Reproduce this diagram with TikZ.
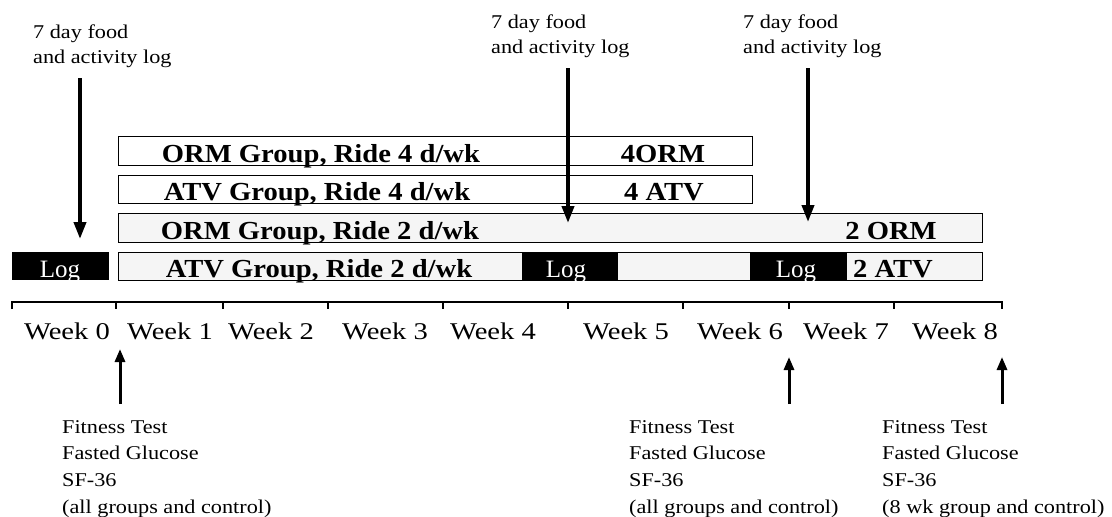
\documentclass[tikz,border=0pt]{standalone}
\usepackage{fontspec}
\setmainfont{Liberation Serif}
\newfontfamily\lblfont[FakeStretch=1.14]{Liberation Serif}
\newfontfamily\wkfont[FakeStretch=1.19]{Liberation Serif}
\newfontfamily\boxfont[FakeStretch=1.1]{Liberation Serif}
\usetikzlibrary{arrows.meta}
\tikzset{
  lbl/.style={font=\lblfont\fontsize{19.5}{25}\selectfont, align=left, inner sep=0pt, anchor=north west},
  note/.style={font=\lblfont\fontsize{19.5}{26.7}\selectfont, align=left, inner sep=0pt, anchor=north west},
  wk/.style={font=\wkfont\fontsize{24}{28}\selectfont, inner sep=0pt, anchor=base},
  bar/.style={draw=black, line width=1.2pt, fill=white, inner sep=0pt, anchor=north west},
  stip/.style={bar, fill=gray!8},
  blk/.style={fill=black, text=white, inner sep=0pt, anchor=north west, minimum height=28pt},
  blktxt/.style={font=\fontsize{25}{28}\selectfont, text=white, inner sep=0pt, anchor=base},
  btxt/.style={font=\boxfont\bfseries\fontsize{26}{28}\selectfont, inner sep=0pt, anchor=base},
  downarr/.style={line width=3.8pt, -{Triangle[length=17pt,width=12pt]}},
  uparr/.style={line width=3pt, -{Triangle[length=13pt,width=10pt]}},
  axis/.style={line width=2.5pt},
}
\begin{document}
\begin{tikzpicture}[x=1pt,y=-1pt]
\useasboundingbox (0,0) rectangle (1112,517);

% top labels
\node[lbl] (lab0) at (33,25) {7 day food\\and activity log};
\node[lbl] (lab5) at (491,15) {7 day food\\and activity log};
\node[lbl] (lab7) at (743,15) {7 day food\\and activity log};

% rows
\node[bar, minimum width=634pt, minimum height=29pt] (r1) at (118,136) {};
\node[btxt] (t1) at (321,162) {ORM Group, Ride 4 d/wk};
\node[btxt] (t1b) at (663,162) {4ORM};

\node[bar, minimum width=634pt, minimum height=28pt] (r2) at (118,175) {};
\node[btxt] (t2) at (317,200) {ATV Group, Ride 4 d/wk};
\node[btxt] (t2b) at (664,200) {4 ATV};

\node[stip, minimum width=864pt, minimum height=29pt] (r3) at (118,213) {};
\node[btxt] (t3) at (320,239) {ORM Group, Ride 2 d/wk};
\node[btxt] (t3b) at (891,239) {2 ORM};

\node[stip, minimum width=864pt, minimum height=28pt] (r4) at (118,252) {};
\node[btxt] (t4) at (319,277) {ATV Group, Ride 2 d/wk};
\node[btxt] (t4b) at (893,277) {2 ATV};

% log blocks
\node[blk, minimum width=97pt] (log0) at (12,252) {};
\node[blktxt] (log0t) at (60,277) {Log};
\node[blk, minimum width=96pt] (log5) at (522,252) {};
\node[blktxt] (log5t) at (566,277) {Log};
\node[blk, minimum width=97pt] (log7) at (750,252) {};
\node[blktxt] (log7t) at (796,277) {Log};

% top arrows
\coordinate (a0s) at (80,78);  \coordinate (a0e) at (80,239);
\coordinate (a5s) at (568,68); \coordinate (a5e) at (568,223);
\coordinate (a7s) at (808,68); \coordinate (a7e) at (808,222);
\draw[downarr] (a0s) -- (a0e);
\draw[downarr] (a5s) -- (a5e);
\draw[downarr] (a7s) -- (a7e);

% axis
\draw[axis] (12,309) -- (12,302) -- (1002,302) -- (1002,309);
\foreach \x in {116,223,328,443,568,683,789,894}
  \draw[axis] (\x,302) -- (\x,309);

% week labels
\node[wk] (w0) at (67,339) {Week 0};
\node[wk] (w1) at (170,339) {Week 1};
\node[wk] (w2) at (271,339) {Week 2};
\node[wk] (w3) at (385,339) {Week 3};
\node[wk] (w4) at (493,339) {Week 4};
\node[wk] (w5) at (626,339) {Week 5};
\node[wk] (w6) at (740,339) {Week 6};
\node[wk] (w7) at (846,339) {Week 7};
\node[wk] (w8) at (955,339) {Week 8};

% bottom arrows
\coordinate (b0s) at (120,404); \coordinate (b0e) at (120,349);
\coordinate (b6s) at (789,404); \coordinate (b6e) at (789,357);
\coordinate (b8s) at (1002,404); \coordinate (b8e) at (1002,357);
\draw[uparr] (b0s) -- (b0e);
\draw[uparr] (b6s) -- (b6e);
\draw[uparr] (b8s) -- (b8e);

% bottom notes
\node[note] (n0) at (62,420) {Fitness Test\\Fasted Glucose\\SF-36\\(all groups and control)};
\node[note] (n6) at (629,420) {Fitness Test\\Fasted Glucose\\SF-36\\(all groups and control)};
\node[note] (n8) at (882,420) {Fitness Test\\Fasted Glucose\\SF-36\\(8 wk group and control)};
\end{tikzpicture}
\end{document}
